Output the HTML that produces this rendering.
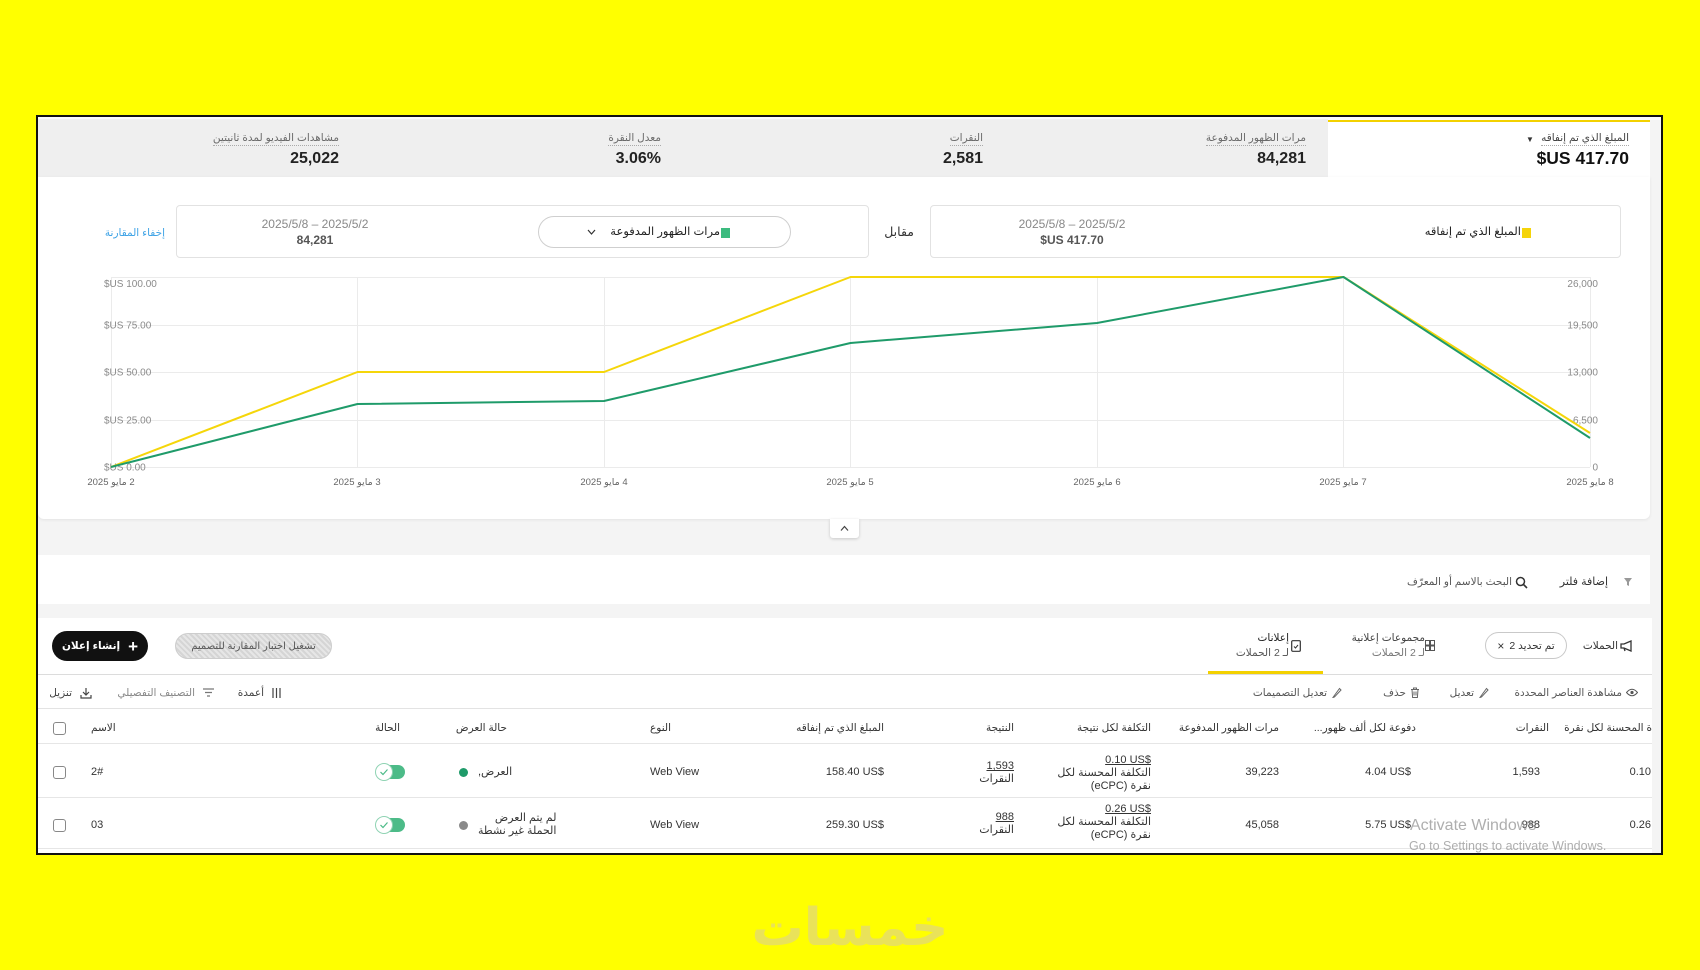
<!DOCTYPE html>
<html><head><meta charset="utf-8">
<style>
*{margin:0;padding:0;box-sizing:border-box}
html,body{width:1700px;height:970px;overflow:hidden;background:#ffff00}
body{position:relative;font-family:"Liberation Sans","DejaVu Sans",sans-serif;color:#333}
.a{position:absolute;white-space:nowrap}
.rtl{direction:rtl}
.ml{font-size:10.5px;color:#6a6a6a;line-height:13px;border-bottom:1px dotted #aaa;direction:rtl}
.mv{font-size:16px;font-weight:bold;color:#222;line-height:18px}
.th{font-size:10.5px;color:#333;line-height:13px;direction:rtl}
.td{font-size:11px;color:#333;line-height:13px}
.tb{font-size:10.5px;color:#555;line-height:14px;direction:rtl}
.xl{font-size:9.5px;color:#666;line-height:12px;direction:rtl;transform:translateX(-50%)}
.cb{position:absolute;width:13px;height:13px;border:1px solid #888;border-radius:3px;background:#fff}
.hl{position:absolute;height:1px;background:#e6e6e6}
</style></head>
<body>

<!-- frame background -->
<div class="a" style="left:38px;top:117px;width:1623px;height:736px;background:#f4f4f4"></div>
<div class="a" style="left:38px;top:117px;width:1623px;height:3px;background:#fafafa"></div>
<!-- top metrics bar -->
<div class="a" style="left:38px;top:119px;width:1290px;height:58px;background:#efefef"></div>
<div class="a" style="left:1328px;top:120px;width:322px;height:57px;background:#fff;border-top:2px solid #f3d100"></div>

<!-- metric labels -->
<div class="a ml" style="right:1361px;top:132px">مشاهدات الفيديو لمدة ثانيتين</div>
<div class="a mv" style="right:1361px;top:150px">25,022</div>
<div class="a ml" style="right:1039px;top:132px">معدل النقرة</div>
<div class="a mv" style="right:1039px;top:150px">3.06%</div>
<div class="a ml" style="right:717px;top:132px">النقرات</div>
<div class="a mv" style="right:717px;top:150px">2,581</div>
<div class="a ml" style="right:394px;top:132px">مرات الظهور المدفوعة</div>
<div class="a mv" style="right:394px;top:150px">84,281</div>
<div class="a ml" style="right:71px;top:132px;color:#444">المبلغ الذي تم إنفاقه</div>
<div class="a" style="left:1526px;top:135px;font-size:8px;color:#333">▼</div>
<div class="a mv" style="right:71px;top:149px;font-size:17.5px;color:#111" dir="ltr">$US 417.70</div>

<!-- chart card -->
<div class="a" style="left:38px;top:177px;width:1612px;height:342px;background:#fff;border-radius:0 0 6px 6px;box-shadow:0 1px 3px rgba(0,0,0,.07)"></div>

<!-- compare boxes -->
<div class="a" style="left:930px;top:205px;width:691px;height:53px;border:1px solid #e2e2e2;border-radius:4px;background:#fff"></div>
<div class="a" style="left:1522px;top:228px;width:9px;height:10px;background:#f5d40a"></div>
<div class="a rtl" style="right:179px;top:225px;font-size:11.5px;color:#222;line-height:14px">المبلغ الذي تم إنفاقه</div>
<div class="a" style="left:1072px;top:217px;transform:translateX(-50%);font-size:12px;color:#888;line-height:14px">2025/5/8 – 2025/5/2</div>
<div class="a" style="left:1072px;top:233px;transform:translateX(-50%);font-size:12px;color:#555;font-weight:bold;line-height:14px" dir="ltr">$US 417.70</div>

<div class="a rtl" style="right:786px;top:225px;font-size:12.5px;color:#333;line-height:15px">مقابل</div>

<div class="a" style="left:176px;top:205px;width:693px;height:53px;border:1px solid #e2e2e2;border-radius:4px;background:#fff"></div>
<div class="a" style="left:538px;top:216px;width:253px;height:32px;border:1px solid #cfcfcf;border-radius:16px;background:#fff"></div>
<div class="a" style="left:721px;top:228px;width:9px;height:10px;background:#3cbb7f"></div>
<div class="a rtl" style="right:980px;top:225px;font-size:11.5px;color:#222;line-height:14px">مرات الظهور المدفوعة</div>
<svg class="a" style="left:587px;top:228px" width="9" height="8" viewBox="0 0 9 8"><path d="M1 2 L4.5 6 L8 2" fill="none" stroke="#333" stroke-width="1.2"/></svg>
<div class="a" style="left:315px;top:217px;transform:translateX(-50%);font-size:12px;color:#888;line-height:14px">2025/5/8 – 2025/5/2</div>
<div class="a" style="left:315px;top:233px;transform:translateX(-50%);font-size:12px;color:#555;font-weight:bold;line-height:14px">84,281</div>
<div class="a rtl" style="right:1535px;top:226px;font-size:10.5px;color:#3ea3e6;line-height:14px">إخفاء المقارنة</div>

<!-- chart -->
<svg class="a" style="left:0;top:0" width="1700" height="970" viewBox="0 0 1700 970">
 <g stroke="#ebebeb" stroke-width="1">
  <line x1="111" y1="277.5" x2="1590" y2="277.5"/>
  <line x1="111" y1="325.5" x2="1590" y2="325.5"/>
  <line x1="111" y1="372.5" x2="1590" y2="372.5"/>
  <line x1="111" y1="420.5" x2="1590" y2="420.5"/>
  <line x1="111" y1="467.5" x2="1590" y2="467.5"/>
  <line x1="111.5" y1="277" x2="111.5" y2="467"/>
  <line x1="357.5" y1="277" x2="357.5" y2="467"/>
  <line x1="604.5" y1="277" x2="604.5" y2="467"/>
  <line x1="850.5" y1="277" x2="850.5" y2="467"/>
  <line x1="1097.5" y1="277" x2="1097.5" y2="467"/>
  <line x1="1343.5" y1="277" x2="1343.5" y2="467"/>
  <line x1="1590.5" y1="277" x2="1590.5" y2="467"/>
 </g>
 <g font-family="Liberation Sans, sans-serif" font-size="10" fill="#8a8a8a">
  <text x="104" y="287">$US 100.00</text>
  <text x="104" y="328.5">$US 75.00</text>
  <text x="104" y="375.5">$US 50.00</text>
  <text x="104" y="423.5">$US 25.00</text>
  <text x="104" y="470.5">$US 0.00</text>
  <text x="1598" y="287" text-anchor="end">26,000</text>
  <text x="1598" y="328.5" text-anchor="end">19,500</text>
  <text x="1598" y="375.5" text-anchor="end">13,000</text>
  <text x="1598" y="423.5" text-anchor="end">6,500</text>
  <text x="1598" y="470.5" text-anchor="end">0</text>
 </g>
 <polyline fill="none" stroke="#f5d60a" stroke-width="2" stroke-linejoin="round" points="111,467 357.5,372 604,372 850.5,277 1097,277 1343.5,277 1590,433"/>
 <polyline fill="none" stroke="#1f9b6a" stroke-width="2" stroke-linejoin="round" points="111,467 357.5,404 604,401 850.5,343 1097,323 1343.5,277 1590,438"/>
</svg>
<div class="a xl" style="left:111px;top:477px">2 مايو 2025</div>
<div class="a xl" style="left:357px;top:477px">3 مايو 2025</div>
<div class="a xl" style="left:604px;top:477px">4 مايو 2025</div>
<div class="a xl" style="left:850px;top:477px">5 مايو 2025</div>
<div class="a xl" style="left:1097px;top:477px">6 مايو 2025</div>
<div class="a xl" style="left:1343px;top:477px">7 مايو 2025</div>
<div class="a xl" style="left:1590px;top:477px">8 مايو 2025</div>

<!-- collapse button -->
<div class="a" style="left:830px;top:519px;width:29px;height:19px;background:#fff;border-radius:0 0 3px 3px;box-shadow:0 1px 3px rgba(0,0,0,.18)"></div>
<svg class="a" style="left:840px;top:525px" width="9" height="7" viewBox="0 0 9 7"><path d="M1 5.5 L4.5 1.5 L8 5.5" fill="none" stroke="#444" stroke-width="1.2"/></svg>

<!-- filter bar -->
<div class="a" style="left:38px;top:555px;width:1612px;height:49px;background:#fff"></div>
<svg class="a" style="left:1623px;top:577px" width="10" height="10" viewBox="0 0 10 10"><path d="M1 1 H9 L6 5 V9 L4 8 V5 Z" fill="#999"/></svg>
<div class="a rtl" style="right:92px;top:575px;font-size:11px;color:#333;line-height:14px">إضافة فلتر</div>
<svg class="a" style="left:1515px;top:576px" width="13" height="13" viewBox="0 0 13 13"><circle cx="5.5" cy="5.5" r="4" fill="none" stroke="#333" stroke-width="1.5"/><line x1="8.5" y1="8.5" x2="12" y2="12" stroke="#333" stroke-width="1.6"/></svg>
<div class="a rtl" style="right:188px;top:575px;font-size:10.5px;color:#555;line-height:14px">البحث بالاسم أو المعرّف</div>

<!-- table card -->
<div class="a" style="left:38px;top:618px;width:1614px;height:235px;background:#fff"></div>

<!-- buttons -->
<div class="a" style="left:52px;top:631px;width:96px;height:30px;border-radius:15px;background:#111;color:#fff;display:flex;align-items:center;justify-content:center;gap:8px;direction:rtl">
 <span style="font-size:17px;line-height:17px;font-weight:bold">+</span><span style="font-size:10.5px;font-weight:bold">إنشاء إعلان</span></div>
<div class="a" style="left:175px;top:633px;width:157px;height:26px;border-radius:13px;border:1px solid #cdcdcd;background:repeating-linear-gradient(45deg,#e6e6e6 0 2px,#d5d5d5 2px 4px);display:flex;align-items:center;justify-content:center;direction:rtl;font-size:10px;color:#555">تشغيل اختبار المقارنة للتصميم</div>

<!-- tabs -->
<svg class="a" style="left:1620px;top:640px" width="13" height="12" viewBox="0 0 13 12"><path d="M1 4 H4 L11 1 V11 L4 8 H1 Z M4 8 L5 11" fill="none" stroke="#333" stroke-width="1.3"/></svg>
<div class="a rtl" style="right:82px;top:639px;font-size:10.5px;color:#333;line-height:14px">الحملات</div>
<div class="a" style="left:1485px;top:632px;width:82px;height:27px;border:1px solid #c9c9c9;border-radius:14px;display:flex;align-items:center;justify-content:center;gap:5px;direction:rtl;font-size:10.5px;color:#333"><span>تم تحديد 2</span><span style="font-size:12px">×</span></div>
<svg class="a" style="left:1425px;top:640px" width="10" height="11" viewBox="0 0 10 11"><rect x="0.5" y="0.5" width="4" height="4.5" fill="none" stroke="#555"/><rect x="5.5" y="0.5" width="4" height="4.5" fill="none" stroke="#555"/><rect x="0.5" y="6" width="4" height="4.5" fill="none" stroke="#555"/><rect x="5.5" y="6" width="4" height="4.5" fill="none" stroke="#555"/></svg>
<div class="a rtl" style="right:275px;top:631px;font-size:10.5px;color:#444;line-height:15px;text-align:right">مجموعات إعلانية<br><span style="color:#777">لـ 2 الحملات</span></div>
<svg class="a" style="left:1291px;top:640px" width="10" height="12" viewBox="0 0 10 12"><rect x="0.7" y="0.7" width="8.6" height="10.6" rx="1" fill="none" stroke="#333" stroke-width="1.2"/><path d="M3 6.5 L4.5 8 L7 5" fill="none" stroke="#333" stroke-width="1"/></svg>
<div class="a rtl" style="right:411px;top:631px;font-size:10.5px;color:#222;line-height:15px;text-align:right">إعلانات<br><span style="color:#555">لـ 2 الحملات</span></div>
<div class="a" style="left:1208px;top:671px;width:115px;height:3px;background:#f3d100"></div>
<div class="a" style="left:38px;top:674px;width:1614px;height:1px;background:#dcdcdc"></div>

<!-- toolbar -->
<svg class="a" style="left:80px;top:687px" width="12" height="12" viewBox="0 0 12 12"><path d="M6 1 V8 M3 5 L6 8 L9 5 M1 8 V11 H11 V8" fill="none" stroke="#444" stroke-width="1.2"/></svg>
<div class="a tb" style="right:1628px;top:686px;color:#444">تنزيل</div>
<svg class="a" style="left:203px;top:688px" width="11" height="9" viewBox="0 0 11 9"><path d="M0 1 H11 M2 4.5 H9 M4 8 H7" stroke="#777" stroke-width="1.2"/></svg>
<div class="a tb" style="right:1505px;top:686px;color:#888">التصنيف التفصيلي</div>
<svg class="a" style="left:272px;top:688px" width="9" height="10" viewBox="0 0 9 10"><path d="M1 0 V10 M4.5 0 V10 M8 0 V10" stroke="#444" stroke-width="1.2"/></svg>
<div class="a tb" style="right:1436px;top:686px;color:#444">أعمدة</div>

<svg class="a" style="left:1626px;top:688px" width="12" height="9" viewBox="0 0 12 9"><path d="M0.5 4.5 Q6 -2 11.5 4.5 Q6 11 0.5 4.5 Z" fill="none" stroke="#555" stroke-width="1"/><circle cx="6" cy="4.5" r="1.6" fill="#555"/></svg>
<div class="a tb" style="right:78px;top:686px">مشاهدة العناصر المحددة</div>
<svg class="a" style="left:1479px;top:687px" width="10" height="11" viewBox="0 0 10 11"><path d="M2 9 L1 10.5 L2.5 10 L9 3 L7.5 1.5 Z" fill="none" stroke="#666" stroke-width="1"/></svg>
<div class="a tb" style="right:226px;top:686px">تعديل</div>
<svg class="a" style="left:1410px;top:687px" width="10" height="11" viewBox="0 0 10 11"><path d="M1 2.5 H9 M3.5 2.5 V1 H6.5 V2.5 M2 2.5 L2.6 10.5 H7.4 L8 2.5 M4 4.5 V8.5 M6 4.5 V8.5" fill="none" stroke="#666" stroke-width="1"/></svg>
<div class="a tb" style="right:294px;top:686px">حذف</div>
<svg class="a" style="left:1332px;top:687px" width="10" height="11" viewBox="0 0 10 11"><path d="M2 9 L1 10.5 L2.5 10 L9 3 L7.5 1.5 Z" fill="none" stroke="#666" stroke-width="1"/></svg>
<div class="a tb" style="right:373px;top:686px">تعديل التصميمات</div>
<div class="a" style="left:38px;top:708px;width:1614px;height:1px;background:#e3e3e3"></div>

<!-- table header -->
<div class="cb" style="left:53px;top:722px"></div>
<div class="a th" style="left:91px;top:722px">الاسم</div>
<div class="a th" style="right:1300px;top:722px">الحالة</div>
<div class="a th" style="right:1193px;top:722px">حالة العرض</div>
<div class="a th" style="right:1029px;top:722px">النوع</div>
<div class="a th" style="right:816px;top:722px">المبلغ الذي تم إنفاقه</div>
<div class="a th" style="right:686px;top:722px">النتيجة</div>
<div class="a th" style="right:549px;top:722px">التكلفة لكل نتيجة</div>
<div class="a th" style="right:421px;top:722px">مرات الظهور المدفوعة</div>
<div class="a" style="right:284px;top:722px;font-size:10.5px;color:#333;line-height:13px;direction:ltr"><span>...</span><span dir="rtl">دفوعة لكل ألف ظهور</span></div>
<div class="a th" style="right:151px;top:722px">النقرات</div>
<div class="a th" style="right:48px;top:722px">ة المحسنة لكل نقرة</div>
<div class="hl" style="left:38px;top:743px;width:1614px"></div>

<!-- row 1 -->
<div class="cb" style="left:53px;top:766px"></div>
<div class="a td" style="left:91px;top:766px">2#</div>
<div class="a" style="left:380px;top:765px;width:25px;height:14px;border-radius:7px;background:#4cbb88"></div>
<div class="a" style="left:375px;top:763px;width:18px;height:18px;border-radius:50%;background:#fff;border:1.5px solid #8fd3b3"></div>
<svg class="a" style="left:379px;top:768px" width="10" height="8" viewBox="0 0 10 8"><path d="M1.5 4 L4 6.5 L8.5 1.5" fill="none" stroke="#4cbb88" stroke-width="1.2"/></svg>
<div class="a" style="left:459px;top:768px;width:9px;height:9px;border-radius:50%;background:#1f9b6a"></div>
<div class="a td rtl" style="left:478px;top:766px">العرض,</div>
<div class="a td" style="left:650px;top:766px">Web View</div>
<div class="a td" style="right:816px;top:766px" dir="ltr">158.40 US$</div>
<div class="a td" style="right:686px;top:760px;text-align:right;direction:ltr"><span style="text-decoration:underline">1,593</span><br><span dir="rtl">النقرات</span></div>
<div class="a td" style="right:549px;top:754px;text-align:right;direction:ltr"><span style="text-decoration:underline" dir="ltr">0.10 US$</span><br><span dir="rtl">التكلفة المحسنة لكل</span><br><span dir="ltr">(eCPC)</span> <span dir="rtl">نقرة</span></div>
<div class="a td" style="right:421px;top:766px">39,223</div>
<div class="a td" style="right:289px;top:766px" dir="ltr">4.04 US$</div>
<div class="a td" style="right:160px;top:766px">1,593</div>
<div class="a td" style="right:49px;top:766px">0.10</div>
<div class="hl" style="left:38px;top:797px;width:1614px"></div>

<!-- row 2 -->
<div class="cb" style="left:53px;top:819px"></div>
<div class="a td" style="left:91px;top:819px">03</div>
<div class="a" style="left:380px;top:818px;width:25px;height:14px;border-radius:7px;background:#4cbb88"></div>
<div class="a" style="left:375px;top:816px;width:18px;height:18px;border-radius:50%;background:#fff;border:1.5px solid #8fd3b3"></div>
<svg class="a" style="left:379px;top:821px" width="10" height="8" viewBox="0 0 10 8"><path d="M1.5 4 L4 6.5 L8.5 1.5" fill="none" stroke="#4cbb88" stroke-width="1.2"/></svg>
<div class="a" style="left:459px;top:821px;width:9px;height:9px;border-radius:50%;background:#8a8a8a"></div>
<div class="a td rtl" style="left:478px;top:812px;text-align:right">لم يتم العرض<br>الحملة غير نشطة</div>
<div class="a td" style="left:650px;top:819px">Web View</div>
<div class="a td" style="right:816px;top:819px" dir="ltr">259.30 US$</div>
<div class="a td" style="right:686px;top:811px;text-align:right;direction:ltr"><span style="text-decoration:underline">988</span><br><span dir="rtl">النقرات</span></div>
<div class="a td" style="right:549px;top:803px;text-align:right;direction:ltr"><span style="text-decoration:underline" dir="ltr">0.26 US$</span><br><span dir="rtl">التكلفة المحسنة لكل</span><br><span dir="ltr">(eCPC)</span> <span dir="rtl">نقرة</span></div>
<div class="a td" style="right:421px;top:819px">45,058</div>
<div class="a td" style="right:289px;top:819px" dir="ltr">5.75 US$</div>
<div class="a td" style="right:160px;top:819px">988</div>
<div class="a td" style="right:49px;top:819px">0.26</div>
<div class="hl" style="left:38px;top:848px;width:1614px"></div>

<!-- activate windows overlay -->
<div class="a" style="left:1410px;top:816px;font-size:16px;color:rgba(140,140,140,.7);line-height:19px">Activate Windows</div>
<div class="a" style="left:1409px;top:839px;font-size:12.5px;color:rgba(140,140,140,.7);line-height:15px">Go to Settings to activate Windows.</div>

<!-- frame border -->
<div class="a" style="left:36px;top:115px;width:1627px;height:740px;border:2px solid #111;pointer-events:none"></div>

<!-- watermark -->
<div class="a" style="left:850px;top:896px;transform:translateX(-50%);font-family:'DejaVu Sans',sans-serif;font-weight:bold;font-size:52px;line-height:64px;color:#e9e25a;direction:rtl">خمسات</div>

</body></html>
